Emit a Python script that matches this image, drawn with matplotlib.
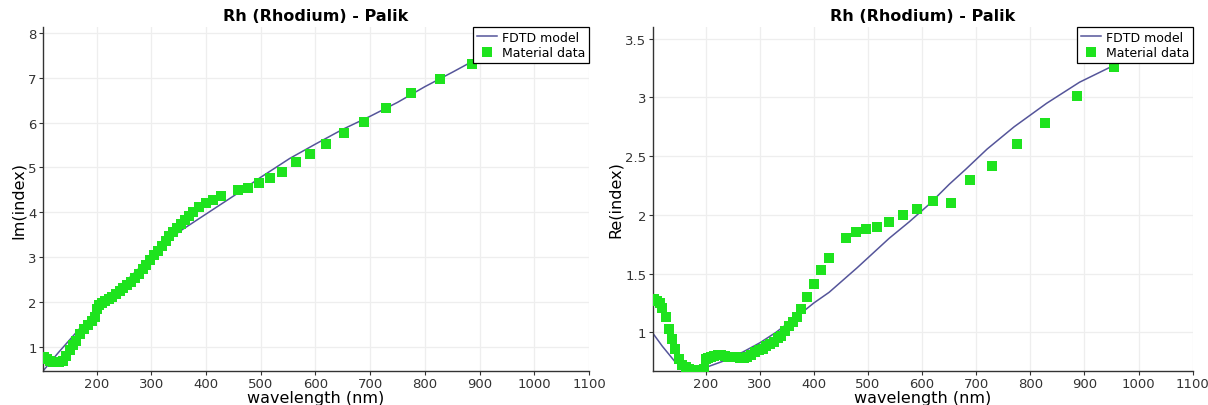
import matplotlib
matplotlib.use("Agg")
import matplotlib.pyplot as plt

# material data (Palik), wavelength in nm
wavelength = [104, 110, 115, 120, 126, 132, 138, 144, 151, 157, 163, 170, 177, 184, 191, 197,
              200, 205, 210, 216, 222, 228, 235, 242, 249, 256, 263, 270, 277, 284, 291, 298,
              305, 312, 319, 326, 333, 340, 347, 354, 361, 368, 376, 388, 400, 413, 428,
              459, 477, 496, 517, 539, 564, 590, 620, 653, 689, 729, 775, 827, 886, 954]
im_index = [0.77, 0.72, 0.68, 0.66, 0.65, 0.66, 0.69, 0.80, 0.92, 1.03, 1.14, 1.28, 1.40, 1.48, 1.57, 1.66,
            1.85, 1.93, 1.98, 2.02, 2.06, 2.12, 2.18, 2.24, 2.30, 2.38, 2.45, 2.53, 2.62, 2.73, 2.83, 2.94,
            3.04, 3.14, 3.25, 3.36, 3.46, 3.56, 3.65, 3.74, 3.83, 3.91, 4.00, 4.12, 4.21, 4.28, 4.36,
            4.49, 4.55, 4.66, 4.77, 4.89, 5.13, 5.30, 5.52, 5.77, 6.02, 6.33, 6.65, 6.96, 7.31, 7.62]
re_index = [1.28, 1.27, 1.25, 1.21, 1.13, 1.03, 0.94, 0.86, 0.77, 0.72, 0.70, 0.69, 0.68, 0.68, 0.68, 0.69,
            0.77, 0.78, 0.79, 0.80, 0.81, 0.81, 0.80, 0.79, 0.79, 0.79, 0.78, 0.78, 0.79, 0.81, 0.83, 0.85,
            0.86, 0.88, 0.90, 0.92, 0.95, 0.97, 1.01, 1.05, 1.09, 1.13, 1.20, 1.30, 1.41, 1.53, 1.63,
            1.80, 1.85, 1.88, 1.90, 1.94, 2.00, 2.05, 2.12, 2.10, 2.30, 2.42, 2.60, 2.78, 3.01, 3.26]

# FDTD model fit
model_wl_im = [102, 130, 170, 200, 250, 300, 350, 400, 450, 500, 553, 600, 650, 700, 750, 800, 850, 900, 1000, 1100]
model_im = [0.46, 0.87, 1.42, 1.80, 2.42, 3.02, 3.56, 3.96, 4.36, 4.78, 5.20, 5.52, 5.85, 6.14, 6.45, 6.80, 7.12, 7.45, 8.05, 8.60]
model_wl_re = [101, 120, 144, 165, 185, 200, 230, 268, 300, 330, 373, 400, 428, 480, 539, 576, 613, 650, 681,
               720, 770, 830, 891, 953, 1000, 1100]
model_re = [1.00, 0.88, 0.745, 0.70, 0.69, 0.70, 0.75, 0.83, 0.91, 1.00, 1.15, 1.25, 1.34, 1.55, 1.80, 1.94,
            2.09, 2.26, 2.39, 2.56, 2.75, 2.95, 3.13, 3.27, 3.38, 3.58]

xticks = [200, 300, 400, 500, 600, 700, 800, 900, 1000, 1100]
im_ticks = [1, 2, 3, 4, 5, 6, 7, 8]
im_ticklabels = ["1", "2", "3", "4", "5", "6", "7", "8"]
re_ticks = [1, 1.5, 2, 2.5, 3, 3.5]
re_ticklabels = ["1", "1.5", "2", "2.5", "3", "3.5"]

title = "Rh (Rhodium) - Palik"
line_color = "#55559a"
marker_color = "#1ee31e"


def draw(ax, mwl, mval, val, ylabel, yticks, yticklabels, ylim):
    ax.plot(mwl, mval, color=line_color, lw=1.1, label="FDTD model", zorder=2)
    ax.plot(wavelength, val, ls="none", marker="s", ms=6.5, mew=0,
            color=marker_color, label="Material data", zorder=3)
    ax.set_xlim(102, 1100)
    ax.set_ylim(*ylim)
    ax.set_xticks(xticks)
    ax.set_yticks(yticks)
    ax.set_yticklabels(yticklabels)
    ax.grid(True, color="#eeeeee", lw=0.9)
    ax.set_axisbelow(True)
    for s in ["top", "right"]:
        ax.spines[s].set_visible(False)
    for s in ["left", "bottom"]:
        ax.spines[s].set_color("#333333")
        ax.spines[s].set_linewidth(1.0)
    ax.tick_params(labelsize=9.5, length=3, color="#333333", labelcolor="#333333", pad=1.5)
    ax.set_xlabel("wavelength (nm)", fontsize=11.5, labelpad=0)
    ax.set_ylabel(ylabel, fontsize=11.5, labelpad=2)
    ax.set_title(title, fontsize=11.5, fontweight="bold", pad=5)
    leg = ax.legend(loc="upper right", borderaxespad=0, fontsize=9, fancybox=False,
                    framealpha=1, edgecolor="black", handlelength=1.6, borderpad=0.3,
                    labelspacing=0.2, handletextpad=0.4)
    leg.get_frame().set_linewidth(0.9)
    leg.set_zorder(5)


def main():
    fig = plt.figure(figsize=(12.08, 4.06), dpi=100)
    ax1 = fig.add_axes([0.0356, 0.0837, 0.452, 0.8473])
    ax2 = fig.add_axes([0.5403, 0.0837, 0.447, 0.8473])

    draw(ax1, model_wl_im, model_im, im_index, "Im(index)", im_ticks, im_ticklabels, (0.46, 8.13))
    draw(ax2, model_wl_re, model_re, re_index, "Re(index)", re_ticks, re_ticklabels, (0.67, 3.6))

    fig.savefig("out.png", dpi=100)


if __name__ == "__main__":
    main()
